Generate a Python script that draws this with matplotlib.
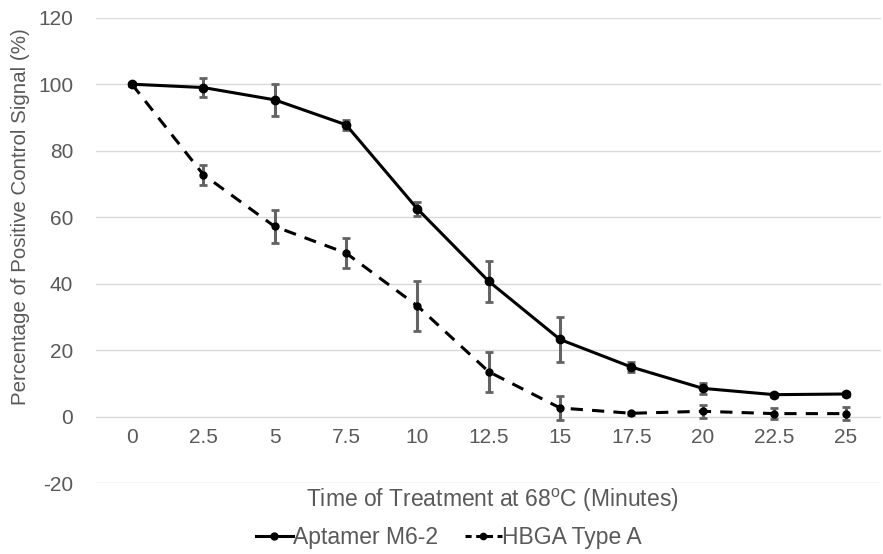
import matplotlib.pyplot as plt
from matplotlib.lines import Line2D
import numpy as np

plt.rcParams['font.family'] = ['Liberation Sans', 'DejaVu Sans']
plt.rcParams['axes.unicode_minus'] = False
plt.rcParams['mathtext.fontset'] = 'custom'
plt.rcParams['mathtext.rm'] = 'Liberation Sans'

times = ['0', '2.5', '5', '7.5', '10', '12.5', '15', '17.5', '20', '22.5', '25']
aptamer = [100, 99, 95.3, 87.8, 62.5, 40.7, 23.2, 14.9, 8.5, 6.6, 6.8]
aptamer_err = [0.5, 2.8, 4.8, 1.5, 2.0, 6.2, 6.8, 1.5, 1.6, 0.6, 0.6]
hbga = [100, 72.8, 57.2, 49.2, 33.3, 13.5, 2.6, 1.0, 1.6, 0.9, 0.9]
hbga_err = [0.5, 3.0, 5.0, 4.5, 7.5, 6.0, 3.6, 0.5, 2.0, 1.6, 2.0]

grey = '#595959'

fig, ax = plt.subplots(figsize=(8.83, 5.54), dpi=100)
fig.subplots_adjust(left=0.109, right=0.998, top=0.968, bottom=0.128)

x = np.arange(len(times))
dash = (0, (4, 3))
ax.errorbar(x, aptamer, yerr=aptamer_err, color='black', lw=2.2, marker='o', ms=6,
            ecolor='#636363', elinewidth=2.2, capsize=3, capthick=2, zorder=3)
ax.errorbar(x, hbga, yerr=hbga_err, color='black', lw=2.2, ls=dash, marker='o', ms=5,
            ecolor='#636363', elinewidth=2.2, capsize=3, capthick=2, zorder=3)

ax.set_xlim(-0.5, len(times) - 0.5)
ax.set_ylim(-20, 120)
ax.set_yticks(range(-20, 121, 20))
ax.set_xticks(x)
ax.set_xticklabels(times)
ax.grid(axis='y', color='#d9d9d9', lw=1)
ax.set_axisbelow(True)
for s in ax.spines.values():
    s.set_visible(False)
ax.spines['bottom'].set_position(('data', 0))
ax.tick_params(length=0, labelsize=15, colors=grey)
ax.tick_params(axis='x', pad=8)
ax.tick_params(axis='y', pad=16.5)

fig.text(0.557, 0.097, 'Time of Treatment at 68$^{\\mathrm{o}}$C (Minutes)', fontsize=16.5,
         color=grey, ha='center', va='center')
ax.set_ylabel('Percentage of Positive Control Signal (%)', fontsize=14.8, color=grey)
ax.yaxis.set_label_coords(-0.085, 0.573)

handles = [Line2D([], [], color='black', lw=2.2, marker='o', ms=5),
           Line2D([], [], color='black', lw=2.2, ls=(0, (2, 1.5)), marker='o', ms=4.5)]
leg = fig.legend(handles, ['Aptamer M6-2', 'HBGA Type A'], loc='center',
                 bbox_to_anchor=(0.508, 0.029), ncol=2, frameon=False,
                 fontsize=16.5, handlelength=1.6, handletextpad=0.0, columnspacing=1.2)
for t in leg.get_texts():
    t.set_color(grey)

fig.savefig('out.png', dpi=100)
